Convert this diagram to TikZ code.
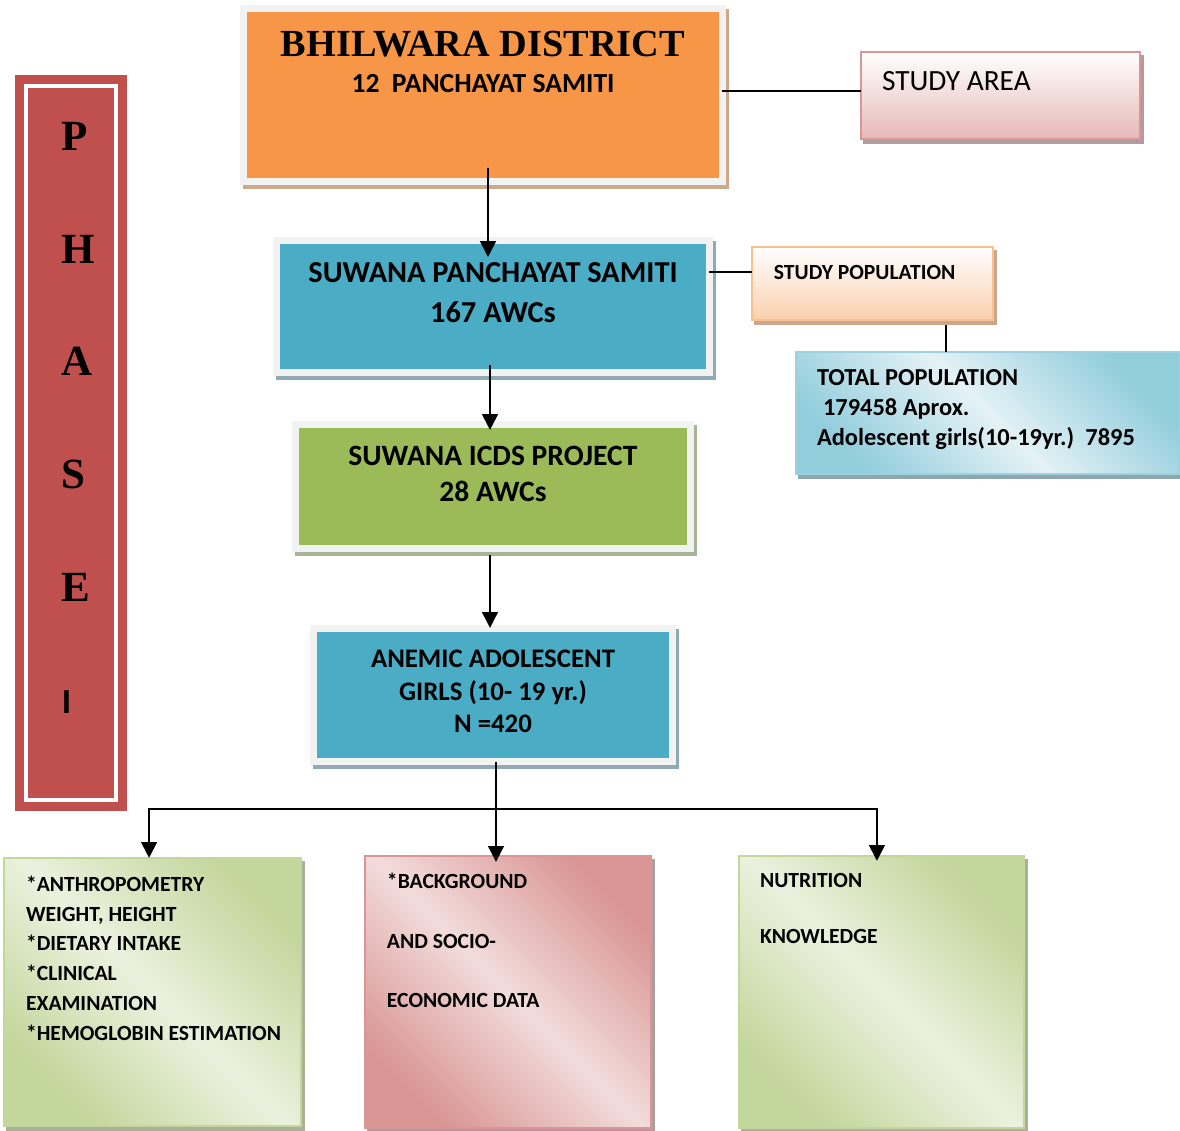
\documentclass[tikz,border=0pt]{standalone}
\usepackage{fontspec}
\setmainfont{Carlito}
\newfontfamily\titlefont{Liberation Serif}
\usetikzlibrary{positioning}
\usetikzlibrary{arrows.meta}

\definecolor{framegray}{HTML}{F2F2F2}
\definecolor{bhilorange}{HTML}{F79646}
\definecolor{bhilshadow}{HTML}{CDA889}
\definecolor{awcblue}{HTML}{4BACC6}
\definecolor{blueshadow}{HTML}{8FAAB4}
\definecolor{icdsgreen}{HTML}{9BBB59}
\definecolor{greenshadow}{HTML}{A8B496}
\definecolor{phasered}{HTML}{C0504D}
\definecolor{areaborder}{HTML}{D99694}
\definecolor{areapink}{HTML}{E6B9B8}
\definecolor{areashadow}{HTML}{B09C9C}
\definecolor{popborder}{HTML}{FAC090}
\definecolor{poppeach}{HTML}{FBD0AE}
\definecolor{popshadow}{HTML}{C8A78C}
\definecolor{totalborder}{HTML}{9DD1DF}
\definecolor{totalblue}{HTML}{92CDDC}
\definecolor{totallight}{HTML}{E4F2F6}
\definecolor{totalshadow}{HTML}{8EA6AE}
\definecolor{bgpink}{HTML}{D99694}
\definecolor{bglight}{HTML}{F2DCDB}
\definecolor{knowgreen}{HTML}{C3D69B}
\definecolor{knowlight}{HTML}{EBF1DE}
\definecolor{lowshadow}{HTML}{A8B096}

\tikzset{
  framed/.style={draw=framegray, line width=0.14cm, inner sep=0pt},
  thinbox/.style={draw=#1, line width=0.04cm, inner sep=0pt},
  boxshadow/.style 2 args={preaction={draw=#1, fill=#1, line width=#2, transform canvas={xshift=0.06cm, yshift=-0.08cm}}},
  diagshade/.style 2 args={top color=#1, bottom color=#1, middle color=#2, shading angle=-45}
}

\begin{document}
\begin{tikzpicture}[x=0.02cm, y=-0.02cm, outer sep=0, line width=1.1pt, >={Triangle[width=9pt,length=9pt]}]
        \useasboundingbox (0,0) rectangle (1180,1131);
        % phase strip
        \node [fill=phasered, draw=white, line width=0.08cm, inner sep=0pt, preaction={draw=phasered, line width=0.44cm}] (phase) at (71,443)
          {\parbox[c][14.28cm][t]{1.8cm}{\raggedright\leftskip=20.4pt\vspace*{20.7pt}\titlefont\bfseries\fontsize{24.5}{64.1}\selectfont P\\H\\A\\S\\E\\{\normalfont\bfseries\fontsize{20}{64.1}\selectfont I}}};
        % district and block
        \node [framed, fill=bhilorange, boxshadow={bhilshadow}{0.14cm}] (bhil) at (483,95.25)
          {\parbox[c][3.47cm][t]{9.58cm}{\centering\vspace*{12.6pt}{\titlefont\bfseries\fontsize{21.8}{24}\selectfont BHILWARA DISTRICT\par}\vspace{3.7pt}{\bfseries\fontsize{15.7}{17}\selectfont 12\ \ PANCHAYAT SAMITI\par}}};
        \node [thinbox=areaborder, top color=white, bottom color=areapink, boxshadow={areashadow}{0.04cm}, right=2.77cm of bhil] (studyarea)
          {\parbox[c][1.74cm][t]{5.58cm}{\leftskip=12pt\vspace*{11pt}\fontsize{16.7}{19}\selectfont STUDY AREA}};
        \node [framed, fill=awcblue, boxshadow={blueshadow}{0.14cm}, below=1.17cm of bhil, xshift=0.2cm] (suwana)
          {\parbox[c][2.64cm][t]{8.66cm}{\centering\bfseries\fontsize{17.3}{23.2}\selectfont\vspace*{12.3pt}SUWANA PANCHAYAT SAMITI\\167 AWCs}};
        % population boxes
        \node [thinbox=popborder, top color=white, bottom color=poppeach, boxshadow={popshadow}{0.04cm}, right=0.85cm of suwana, yshift=0.46cm] (studypop)
          {\parbox[c][1.46cm][t]{4.82cm}{\leftskip=12.5pt\vspace*{10.2pt}\bfseries\fontsize{12.3}{14}\selectfont STUDY POPULATION}};
        \node [thinbox=totalborder, diagshade={totalblue}{totallight}, boxshadow={totalshadow}{0.04cm}, below=0.64cm of studypop, xshift=2.31cm] (totalpop)
          {\parbox[c][2.44cm][t]{7.68cm}{\raggedright\leftskip=12pt\vspace*{10.2pt}\bfseries\fontsize{13.9}{17}\selectfont TOTAL POPULATION\\\hspace*{3.4pt}179458 Aprox.\\Adolescent girls(10-19yr.)\ \ 7895}};
        % project and sample
        \node [framed, fill=icdsgreen, boxshadow={greenshadow}{0.14cm}, below=1.04cm of suwana] (icds)
          {\parbox[c][2.49cm][t]{7.89cm}{\centering\bfseries\fontsize{16.8}{20.4}\selectfont\vspace*{12.5pt}SUWANA ICDS PROJECT\\28 AWCs}};
        \node [framed, fill=awcblue, boxshadow={blueshadow}{0.14cm}, below=1.59cm of icds] (anemic)
          {\parbox[c][2.67cm][t]{7.17cm}{\centering\bfseries\fontsize{15.25}{18.4}\selectfont\vspace*{12.4pt}ANEMIC ADOLESCENT\\GIRLS (10- 19 yr.)\\N =420}};
        % data collected
        \node [thinbox=bgpink, diagshade={bgpink}{bglight}, boxshadow={areashadow}{0.04cm}, below=1.88cm of anemic, xshift=0.3cm] (background)
          {\parbox[c][5.44cm][t]{5.72cm}{\raggedright\leftskip=12.5pt\vspace*{9.7pt}\bfseries\fontsize{12.3}{17}\selectfont *BACKGROUND\\[17pt]AND SOCIO-\\[17pt]ECONOMIC DATA}};
        \node [thinbox=knowgreen, diagshade={knowgreen}{knowlight}, boxshadow={lowshadow}{0.04cm}, left=1.28cm of background] (measures)
          {\parbox[c][5.36cm][t]{5.94cm}{\raggedright\leftskip=12.5pt\vspace*{10.2pt}\bfseries\fontsize{12.3}{17}\selectfont *ANTHROPOMETRY\\WEIGHT, HEIGHT\\{}*DIETARY INTAKE\\{}*CLINICAL\\EXAMINATION\\{}*HEMOGLOBIN ESTIMATION}};
        \node [thinbox=knowgreen, diagshade={knowgreen}{knowlight}, boxshadow={lowshadow}{0.04cm}, right=1.76cm of background] (knowledge)
          {\parbox[c][5.44cm][t]{5.7cm}{\raggedright\leftskip=12pt\vspace*{9.7pt}\bfseries\fontsize{12.3}{17}\selectfont NUTRITION\\[15.3pt]KNOWLEDGE}};
        % connectors
        \draw ([yshift=0.09cm]studyarea.west) -- ([yshift=0.09cm]studyarea.west -| bhil.east);
        \draw ([yshift=0.23cm]studypop.west) -- ([yshift=0.23cm]studypop.west -| suwana.east);
        \draw ([xshift=1.47cm,yshift=-0.1cm]studypop.south) -- ([xshift=1.47cm]studypop.south |- totalpop.north);
        \draw[->] ([xshift=0.1cm,yshift=0.28cm]bhil.south) -- ([xshift=-0.1cm,yshift=-0.33cm]suwana.north);
        \draw[->] ([xshift=-0.06cm,yshift=0.15cm]suwana.south) -- ([xshift=-0.06cm,yshift=-0.11cm]icds.north);
        \draw[->] ([xshift=-0.06cm,yshift=-0.12cm]icds.south) -- ([xshift=-0.06cm,yshift=0.01cm]anemic.north);
        \coordinate [below=0.94cm of anemic, xshift=0.06cm] (split);
        \draw[->] ([xshift=0.06cm]anemic.south) -- ([yshift=-0.12cm]split |- background.north);
        \draw[->] (split) -| ([xshift=-0.07cm]measures.north);
        \draw[->] (split) -| ([xshift=-0.09cm,yshift=-0.1cm]knowledge.north);
\end{tikzpicture}
\end{document}
